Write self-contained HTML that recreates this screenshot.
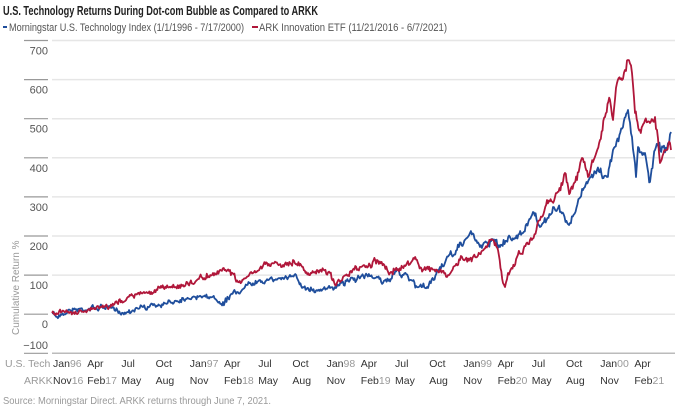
<!DOCTYPE html>
<html><head><meta charset="utf-8"><style>
html,body{margin:0;padding:0;background:#fff;}
svg{display:block;font-family:"Liberation Sans Narrow","Liberation Sans",sans-serif;}
</style></head><body>
<svg id="s" width="675" height="412" viewBox="0 0 675 412" xmlns="http://www.w3.org/2000/svg">
<rect width="675" height="412" fill="#fff"/>
<text x="3" y="15" font-size="13" font-weight="bold" fill="#222" textLength="315" lengthAdjust="spacingAndGlyphs">U.S. Technology Returns During Dot-com Bubble as Compared to ARKK</text>
<rect x="3" y="26" width="4" height="2" fill="#1f4e9c"/>
<text x="9" y="31" font-size="11" fill="#555" textLength="235" lengthAdjust="spacingAndGlyphs">Morningstar U.S. Technology Index (1/1/1996 - 7/17/2000)</text>
<rect x="252" y="26" width="6" height="2" fill="#b0173a"/>
<text x="259" y="31" font-size="11" fill="#555" textLength="188" lengthAdjust="spacingAndGlyphs">ARK Innovation ETF (11/21/2016 - 6/7/2021)</text>
<g id="grid"></g>
<text transform="translate(19,335) rotate(-90)" font-size="10" fill="#999">Cumulative Return %</text>
<g id="series"></g>
<g id="xl" font-size="10.5" fill="#333"></g>
<text x="3" y="404" font-size="10.5" fill="#999" textLength="268" lengthAdjust="spacingAndGlyphs">Source: Morningstar Direct. ARKK returns through June 7, 2021.</text>
</svg>
<script>
var NS="http://www.w3.org/2000/svg",svg=document.getElementById('s');
function el(t,a,p,txt){var e=document.createElementNS(NS,t);for(var k in a)e.setAttribute(k,a[k]);if(txt!=null)e.textContent=txt;(p||svg).appendChild(e);return e;}
var g=document.getElementById('grid');
for(var i=0;i<=8;i++){var y=40.5+i*39.1;var v=700-i*100;
 el('line',{x1:52,x2:675,y1:y,y2:y,stroke:i==8?'#bbb':'#e6e6e6','stroke-width':1.5},g);
 el('line',{x1:24,x2:48,y1:y,y2:y,stroke:'#999','stroke-width':1.2},g);
 if(i<8)el('text',{x:48,y:y+14,'text-anchor':'end','font-size':11,fill:'#555'},g,String(v));}
el('text',{x:48,y:349,'text-anchor':'end','font-size':11,fill:'#555'},g,'\u2212100');
var xl=document.getElementById('xl');
el('text',{x:5,y:367,fill:'#999'},xl,'U.S. Tech');el('text',{x:24,y:384,fill:'#999'},xl,'ARKK');
var r1=[['Jan','96'],['Apr'],['Jul'],['Oct'],['Jan','97'],['Apr'],['Jul'],['Oct'],['Jan','98'],['Apr'],['Jul'],['Oct'],['Jan','99'],['Apr'],['Jul'],['Oct'],['Jan','00'],['Apr']];
var r2=[['Nov','16'],['Feb','17'],['May'],['Aug'],['Nov'],['Feb','18'],['May'],['Aug'],['Nov'],['Feb','19'],['May'],['Aug'],['Nov'],['Feb','20'],['May'],['Aug'],['Nov'],['Feb','21']];
function lab(r,y){for(var i=0;i<r.length;i++){var x=53+i*34.2;var t=el('text',{x:x,y:y},xl,null);el('tspan',{},t,r[i][0]);if(r[i][1])el('tspan',{fill:'#999'},t,r[i][1]);}}
lab(r1,367);lab(r2,384);
var blue=[[52,313],[57,317],[70,310],[110,307],[123,313],[137,308],[163,305],[183,298],[210,297],[223,302],[237,292],[260,280],[283,278],[297,278],[303,287],[317,290],[330,288],[335,287],[350,280],[367,275],[375,278],[383,283],[397,270],[410,280],[417,287],[428,288],[440,267],[457,250],[470,233],[480,247],[493,240],[500,247],[510,237],[523,233],[533,212],[540,227],[543,223],[553,207],[560,212],[570,223],[583,190],[597,170],[607,177],[613,150],[623,127],[628,110],[632,137],[636,177],[638,147],[645,153],[650,182],[655,150],[663,147],[667,150],[671,132]];
var red=[[52,313],[70,312],[110,307],[127,298],[160,288],[183,285],[197,280],[213,273],[230,270],[238,282],[253,273],[267,263],[283,265],[293,260],[303,267],[310,275],[317,270],[330,273],[335,285],[343,277],[357,270],[370,265],[377,260],[390,273],[407,263],[417,260],[423,270],[437,270],[447,277],[460,260],[477,257],[493,240],[498,250],[503,283],[505,287],[508,273],[517,257],[530,240],[540,220],[547,200],[555,197],[565,173],[570,193],[577,180],[582,158],[588,177],[593,162],[600,140],[605,117],[610,100],[613,120],[617,83],[622,80],[625,70],[628,60],[632,73],[635,113],[640,130],[645,120],[650,123],[655,117],[657,130],[660,163],[665,150],[670,143],[671,150]];
var seed=7;function rnd(){seed=(seed*16807)%2147483647;return seed/2147483647-0.5;}
function path(pts,amp){var d='M'+pts[0][0]+','+pts[0][1];var w=0;for(var i=1;i<pts.length;i++){var a=pts[i-1],b=pts[i];var n=Math.max(1,Math.round((b[0]-a[0])/0.9));for(var k=1;k<=n;k++){var t=k/n;var x=a[0]+(b[0]-a[0])*t,y=a[1]+(b[1]-a[1])*t;var sc=1+(300-y)/180;w=w*0.6+rnd()*amp*sc;if(k<n)y+=w+rnd()*amp*0.8*sc;d+=' L'+x.toFixed(1)+','+y.toFixed(1);}}return d;}
var s=document.getElementById('series');
el('path',{d:path(blue,3.5),fill:'none',stroke:'#1f4e9c','stroke-width':1.8,'stroke-linejoin':'round'},s);
el('path',{d:path(red,3.5),fill:'none',stroke:'#b0173a','stroke-width':1.8,'stroke-linejoin':'round'},s);
</script>
</body></html>
